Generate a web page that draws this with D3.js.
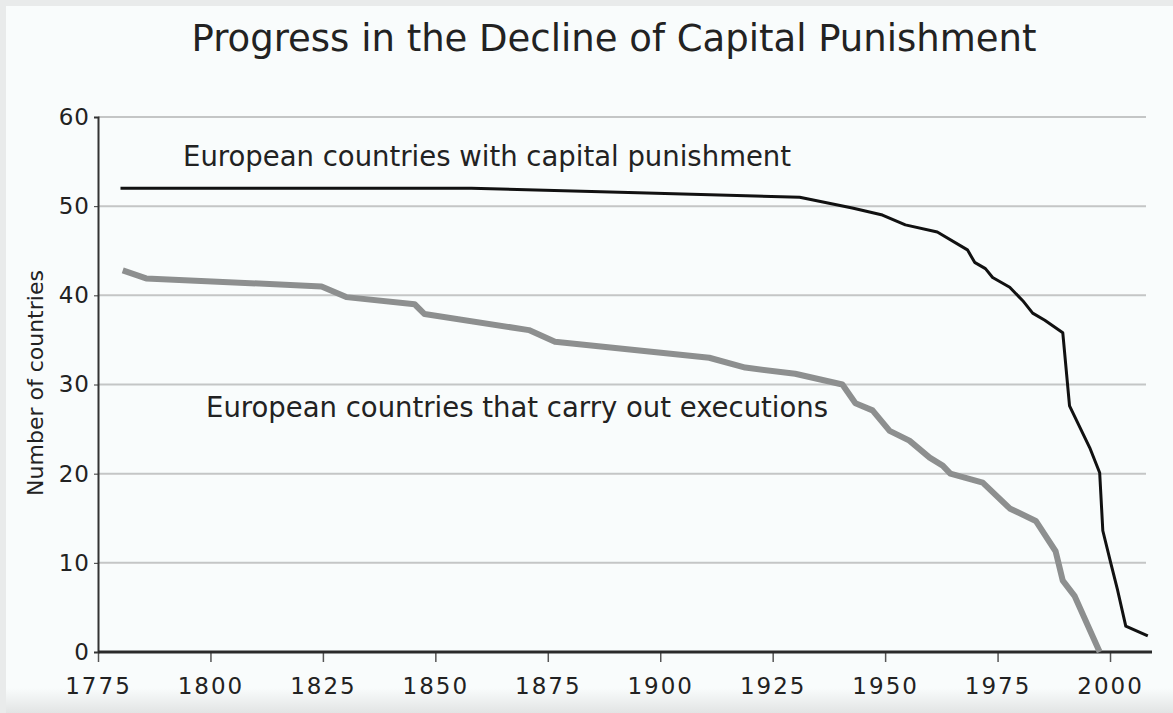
<!DOCTYPE html>
<html>
<head>
<meta charset="utf-8">
<script src="https://cdn.jsdelivr.net/npm/d3@7"></script>
<style>
  body { margin: 0; background: #fff; }
  svg { display: block; }
  text { font-family: "DejaVu Sans", sans-serif; fill: #222; }
</style>
</head>
<body>
<div id="chart"></div>
<script>
// European countries with capital punishment (black line)
var yearsCapital = [1780, 1858, 1895, 1931, 1942.7, 1949.4, 1954.5, 1961.6, 1968.3, 1969.9, 1972.3, 1973.9, 1977.7, 1980.6, 1982.8, 1985.5, 1989.5, 1991.0, 1995.5, 1997.7, 1998.4, 2000.2, 2001.7, 2003.5, 2008.4];
var valuesCapital = [52, 52, 51.5, 51, 49.8, 49, 47.9, 47.1, 45.1, 43.7, 43, 42, 40.9, 39.4, 38, 37.2, 35.8, 27.6, 22.9, 20.1, 13.6, 9.9, 6.9, 2.9, 1.8];

// European countries that carry out executions (grey line)
var yearsExec = [1780.5, 1785.7, 1824.7, 1830.2, 1845.4, 1847.6, 1870.8, 1876.6, 1910.9, 1918.9, 1930.0, 1940.5, 1943.4, 1947.2, 1951, 1955.4, 1959.9, 1962.8, 1964.5, 1971.7, 1977.7, 1983.5, 1987.9, 1989.5, 1992.1, 1997.7];
var valuesExec = [42.8, 41.9, 41, 39.8, 39, 37.9, 36.1, 34.8, 33, 31.9, 31.2, 30, 27.9, 27.1, 24.8, 23.7, 21.8, 20.9, 20, 19, 16.1, 14.7, 11.3, 8, 6.3, 0];

var xTicks = [1775, 1800, 1825, 1850, 1875, 1900, 1925, 1950, 1975, 2000];
var yTicks = [0, 10, 20, 30, 40, 50, 60];

var chartTitle = "Progress in the Decline of Capital Punishment";
var labelCapital = "European countries with capital punishment";
var labelExec = "European countries that carry out executions";
var yTitle = "Number of countries";

var totalWidth = 1173, totalHeight = 713;

var x = d3.scaleLinear().domain([1775, 2010]).range([98, 1155]),
    y = d3.scaleLinear().domain([0, 60]).range([652, 117]);

var svg = d3.select("#chart").append("svg")
  .attr("width", totalWidth)
  .attr("height", totalHeight);

// fond + cadre
var grad = svg.append("defs").append("linearGradient")
  .attr("id", "bas").attr("x1", 0).attr("y1", 0).attr("x2", 0).attr("y2", 1);
grad.append("stop").attr("offset", "0%").attr("stop-color", "#f9fcfc");
grad.append("stop").attr("offset", "100%").attr("stop-color", "#e2e4e4");

svg.append("rect")
  .attr("x", 0).attr("y", 0).attr("width", totalWidth).attr("height", totalHeight)
  .attr("fill", "#e9ebeb");
svg.append("rect")
  .attr("x", 6).attr("y", 6).attr("width", totalWidth - 6).attr("height", totalHeight - 6)
  .attr("fill", "#f9fcfc");
svg.append("rect")
  .attr("x", 6).attr("y", 688).attr("width", totalWidth - 6).attr("height", 25)
  .attr("fill", "url(#bas)");

// titre
svg.append("text")
  .attr("x", 614).attr("y", 51)
  .style("text-anchor", "middle")
  .style("font-size", "37px")
  .text(chartTitle);

// grille
svg.append("g")
  .selectAll("line")
  .data(yTicks.filter(function(d) { return d > 0; }))
  .join("line")
    .attr("x1", x(1775)).attr("x2", 1146)
    .attr("y1", function(d) { return y(d); })
    .attr("y2", function(d) { return y(d); })
    .attr("stroke", "#c4c6c6")
    .attr("stroke-width", 2);

// axe y
var axeY = svg.append("g")
  .attr("transform", "translate(" + x(1775) + ",0)")
  .call(d3.axisLeft(y).tickValues(yTicks).tickSize(4).tickPadding(4));
axeY.select(".domain").attr("stroke", "#333").attr("stroke-width", 2);
axeY.selectAll(".tick line").attr("stroke", "#333");
axeY.selectAll("text").style("font-size", "23px").style("letter-spacing", "1px").attr("fill", "#333");

// axe x
var axeX = svg.append("g")
  .attr("transform", "translate(0," + y(0) + ")")
  .call(d3.axisBottom(x).tickValues(xTicks).tickFormat(d3.format("d")).tickSize(10).tickPadding(16));
axeX.select(".domain").remove();
axeX.selectAll(".tick line").attr("stroke", "#555").attr("stroke-width", 1.5);
axeX.selectAll("text").style("font-size", "23px").style("letter-spacing", "2px").attr("fill", "#333");
axeX.append("line")
  .attr("x1", x(1775)).attr("x2", 1152)
  .attr("stroke", "#2a2a2a")
  .attr("stroke-width", 3);

// titre axe y
svg.append("text")
  .attr("transform", "translate(43," + 383 + ") rotate(-90)")
  .style("text-anchor", "middle")
  .style("font-size", "22px")
  .text(yTitle);

var ligne = d3.line()
  .x(function(d) { return x(d[0]); })
  .y(function(d) { return y(d[1]); });

svg.append("path")
  .datum(d3.zip(yearsExec, valuesExec))
  .attr("fill", "none")
  .attr("stroke", "#8d8f8f")
  .attr("stroke-width", 6)
  .attr("stroke-linejoin", "round")
  .attr("d", ligne);

svg.append("path")
  .datum(d3.zip(yearsCapital, valuesCapital))
  .attr("fill", "none")
  .attr("stroke", "#111")
  .attr("stroke-width", 3)
  .attr("stroke-linejoin", "round")
  .attr("d", ligne);

svg.append("text")
  .attr("x", 183).attr("y", 166)
  .style("font-size", "27.5px")
  .text(labelCapital);

svg.append("text")
  .attr("x", 206).attr("y", 417)
  .style("font-size", "27.5px")
  .text(labelExec);
</script>
</body>
</html>
